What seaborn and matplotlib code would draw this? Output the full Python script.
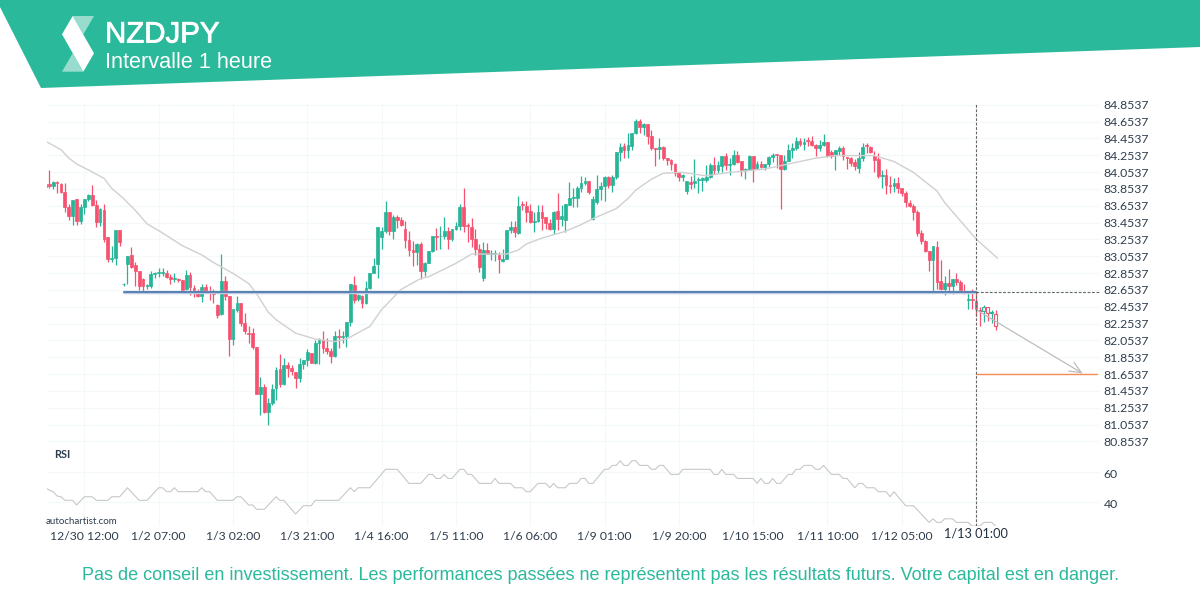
import numpy as np
import pandas as pd
import seaborn as sns
import matplotlib.pyplot as plt
import matplotlib.patheffects as pe
from matplotlib.patches import Polygon
from matplotlib.transforms import ScaledTranslation

# hourly candles
opens = [
    83.88, 83.91, 83.89, 83.94, 83.91, 83.82, 83.64, 83.53, 83.73, 83.47,
    83.64, 83.73, 83.78, 83.66, 83.46, 83.60, 83.28, 83.02, 83.03, 83.36,
    82.72, 82.96, 83.07, 82.95, 82.88, 82.78, 82.70, 82.70, 82.84, 82.86,
    82.86, 82.85, 82.81, 82.78, 82.78, 82.77, 82.66, 82.83, 82.68, 82.64,
    82.58, 82.69, 82.64, 82.62, 82.48, 82.37, 82.76, 82.58, 82.07, 82.41,
    82.50, 82.26, 82.14, 82.14, 81.97, 81.42, 81.50, 81.20, 81.31, 81.49,
    81.71, 81.54, 81.76, 81.73, 81.68, 81.61, 81.77, 81.82, 81.90, 81.78,
    82.02, 82.06, 81.96, 81.93, 81.87, 82.11, 82.10, 82.11, 82.27, 82.71,
    82.54, 82.58, 82.50, 82.68, 82.86, 82.96, 83.28, 83.35, 83.58, 83.35,
    83.52, 83.48, 83.38, 83.25, 83.13, 83.10, 83.20, 82.88, 82.97, 83.12,
    83.29, 83.29, 83.30, 83.35, 83.26, 83.38, 83.41, 83.64, 83.42, 83.40,
    83.26, 83.14, 82.80, 83.13, 83.08, 83.08, 83.07, 83.00, 83.02, 83.37,
    83.40, 83.33, 83.67, 83.65, 83.59, 83.46, 83.47, 83.58, 83.52, 83.45,
    83.38, 83.59, 83.50, 83.49, 83.66, 83.75, 83.75, 83.87, 83.92, 83.95,
    83.50, 83.70, 83.85, 83.89, 84.00, 83.90, 84.00, 84.29, 84.36, 84.32,
    84.36, 84.52, 84.66, 84.59, 84.63, 84.48, 84.34, 84.33, 84.35, 84.22,
    84.20, 84.15, 84.04, 83.99, 83.83, 83.94, 83.92, 83.96, 83.96, 83.96,
    83.99, 84.14, 84.08, 84.13, 84.25, 84.14, 84.15, 84.26, 84.18, 84.08,
    84.09, 84.24, 84.10, 84.15, 84.11, 84.15, 84.23, 84.27, 84.26, 84.09,
    84.19, 84.32, 84.34, 84.42, 84.39, 84.43, 84.42, 84.37, 84.34, 84.38,
    84.41, 84.29, 84.26, 84.31, 84.34, 84.23, 84.22, 84.17, 84.10, 84.22,
    84.37, 84.35, 84.24, 84.21, 84.01, 84.02, 83.90, 83.89, 83.92, 83.87,
    83.80, 83.69, 83.65, 83.58, 83.33, 83.24, 83.12, 83.01, 83.16, 82.76,
    82.67, 82.74, 82.70, 82.78, 82.75, 82.64, 82.53, 82.54, 82.52, 82.42,
    82.40, 82.45, 82.38, 82.37,
]
closes = [
    83.91, 83.89, 83.94, 83.93, 83.82, 83.64, 83.53, 83.72, 83.47, 83.64,
    83.73, 83.78, 83.66, 83.46, 83.61, 83.26, 83.02, 83.03, 83.36, 83.22,
    82.73, 83.06, 82.93, 82.88, 82.70, 82.70, 82.71, 82.84, 82.86, 82.87,
    82.87, 82.81, 82.78, 82.80, 82.77, 82.65, 82.83, 82.69, 82.64, 82.58,
    82.69, 82.64, 82.62, 82.61, 82.35, 82.76, 82.58, 82.07, 82.43, 82.50,
    82.26, 82.16, 82.13, 81.97, 81.42, 81.50, 81.20, 81.31, 81.48, 81.70,
    81.54, 81.76, 81.73, 81.69, 81.61, 81.77, 81.82, 81.92, 81.78, 82.02,
    82.06, 81.96, 81.93, 81.87, 82.11, 82.10, 82.11, 82.27, 82.72, 82.53,
    82.59, 82.50, 82.68, 82.86, 82.94, 83.40, 83.35, 83.58, 83.35, 83.52,
    83.48, 83.43, 83.25, 83.13, 83.10, 83.20, 82.88, 82.97, 83.12, 83.29,
    83.28, 83.30, 83.35, 83.26, 83.38, 83.41, 83.64, 83.41, 83.41, 83.26,
    83.14, 82.93, 83.13, 83.08, 83.09, 83.09, 83.02, 83.02, 83.37, 83.40,
    83.34, 83.65, 83.66, 83.58, 83.46, 83.47, 83.58, 83.51, 83.45, 83.38,
    83.58, 83.50, 83.53, 83.68, 83.75, 83.76, 83.86, 83.92, 83.95, 83.82,
    83.74, 83.85, 83.89, 84.00, 83.90, 84.00, 84.29, 84.35, 84.32, 84.38,
    84.52, 84.66, 84.59, 84.63, 84.48, 84.34, 84.33, 84.35, 84.22, 84.20,
    84.15, 84.04, 84.00, 84.02, 83.95, 83.91, 83.95, 83.97, 83.98, 84.00,
    84.14, 84.08, 84.14, 84.24, 84.14, 84.15, 84.26, 84.17, 84.08, 84.09,
    84.24, 84.09, 84.15, 84.12, 84.15, 84.23, 84.26, 84.26, 84.09, 84.19,
    84.32, 84.34, 84.42, 84.39, 84.41, 84.42, 84.38, 84.34, 84.38, 84.41,
    84.25, 84.25, 84.32, 84.34, 84.24, 84.22, 84.16, 84.13, 84.22, 84.35,
    84.36, 84.29, 84.20, 84.01, 84.02, 83.90, 83.89, 83.92, 83.87, 83.80,
    83.70, 83.65, 83.58, 83.33, 83.24, 83.12, 83.01, 83.17, 82.75, 82.67,
    82.74, 82.70, 82.78, 82.75, 82.64, 82.63, 82.54, 82.53, 82.43, 82.40,
    82.45, 82.38, 82.39, 82.22,
]
highs = [
    83.92, 84.08, 83.95, 83.95, 83.93, 83.93, 83.67, 83.72, 83.73, 83.67,
    83.74, 83.79, 83.90, 83.72, 83.63, 83.67, 83.28, 83.17, 83.37, 83.37,
    82.74, 83.06, 83.16, 82.98, 82.88, 82.79, 82.72, 82.88, 82.87, 82.92,
    82.91, 82.89, 82.84, 82.85, 82.79, 82.77, 82.89, 82.87, 82.71, 82.66,
    82.72, 82.72, 82.70, 82.66, 82.49, 83.08, 82.82, 82.58, 82.43, 82.58,
    82.50, 82.38, 82.23, 82.20, 81.97, 81.62, 81.54, 81.37, 81.54, 81.74,
    81.89, 81.85, 81.80, 81.76, 81.68, 81.84, 81.82, 81.95, 81.90, 82.06,
    82.08, 82.16, 82.08, 81.96, 82.16, 82.19, 82.16, 82.27, 82.72, 82.82,
    82.61, 82.59, 82.76, 82.86, 83.03, 83.40, 83.40, 83.71, 83.58, 83.54,
    83.54, 83.52, 83.47, 83.35, 83.24, 83.21, 83.22, 82.98, 83.12, 83.30,
    83.39, 83.41, 83.52, 83.40, 83.38, 83.46, 83.67, 83.87, 83.45, 83.51,
    83.38, 83.20, 83.22, 83.21, 83.13, 83.13, 83.10, 83.14, 83.37, 83.47,
    83.47, 83.77, 83.71, 83.71, 83.67, 83.58, 83.66, 83.66, 83.52, 83.50,
    83.59, 83.80, 83.66, 83.68, 83.94, 83.86, 83.89, 84.01, 84.00, 83.95,
    83.77, 84.02, 83.94, 84.01, 84.01, 84.02, 84.29, 84.40, 84.40, 84.52,
    84.52, 84.69, 84.68, 84.64, 84.63, 84.55, 84.34, 84.46, 84.36, 84.22,
    84.21, 84.16, 84.06, 84.03, 83.95, 84.01, 84.21, 83.99, 83.99, 84.14,
    84.16, 84.23, 84.18, 84.25, 84.28, 84.22, 84.32, 84.30, 84.18, 84.10,
    84.26, 84.24, 84.19, 84.19, 84.15, 84.24, 84.28, 84.27, 84.26, 84.26,
    84.39, 84.40, 84.47, 84.46, 84.46, 84.47, 84.48, 84.39, 84.43, 84.51,
    84.41, 84.32, 84.32, 84.36, 84.36, 84.23, 84.23, 84.21, 84.29, 84.40,
    84.40, 84.36, 84.30, 84.28, 84.08, 84.09, 84.01, 83.98, 83.99, 83.87,
    83.83, 83.72, 83.68, 83.60, 83.36, 83.25, 83.12, 83.18, 83.23, 83.01,
    82.82, 82.90, 82.78, 82.85, 82.77, 82.73, 82.63, 82.67, 82.63, 82.45,
    82.47, 82.45, 82.41, 82.42,
]
lows = [
    83.85, 83.87, 83.85, 83.80, 83.81, 83.58, 83.49, 83.43, 83.42, 83.44,
    83.56, 83.71, 83.65, 83.40, 83.41, 83.22, 82.99, 82.99, 82.95, 83.18,
    82.70, 82.73, 82.92, 82.70, 82.65, 82.64, 82.67, 82.68, 82.79, 82.81,
    82.82, 82.79, 82.72, 82.75, 82.75, 82.65, 82.65, 82.59, 82.57, 82.57,
    82.51, 82.63, 82.53, 82.50, 82.32, 82.36, 82.53, 81.87, 82.00, 82.39,
    82.22, 82.13, 82.02, 81.95, 81.42, 81.17, 81.19, 81.05, 81.29, 81.35,
    81.50, 81.52, 81.62, 81.64, 81.49, 81.56, 81.71, 81.75, 81.78, 81.77,
    81.77, 81.90, 81.89, 81.78, 81.86, 81.96, 82.02, 81.97, 82.22, 82.50,
    82.52, 82.44, 82.49, 82.67, 82.85, 82.80, 83.14, 83.33, 83.31, 83.26,
    83.39, 83.41, 83.15, 83.06, 82.94, 82.95, 82.78, 82.82, 82.97, 83.11,
    83.13, 83.14, 83.26, 83.14, 83.24, 83.37, 83.37, 83.34, 83.22, 83.16,
    83.07, 82.87, 82.76, 83.08, 83.01, 83.00, 82.86, 82.99, 83.02, 83.33,
    83.28, 83.32, 83.60, 83.46, 83.45, 83.34, 83.46, 83.37, 83.38, 83.36,
    83.32, 83.37, 83.41, 83.34, 83.66, 83.64, 83.64, 83.82, 83.90, 83.79,
    83.48, 83.68, 83.72, 83.71, 83.87, 83.82, 83.97, 84.19, 84.22, 84.22,
    84.32, 84.51, 84.52, 84.49, 84.39, 84.32, 84.13, 84.21, 84.20, 84.14,
    84.08, 84.01, 83.95, 83.95, 83.79, 83.85, 83.87, 83.80, 83.83, 83.94,
    83.98, 84.03, 84.04, 84.06, 84.08, 84.02, 84.14, 84.16, 84.01, 83.97,
    84.08, 83.94, 84.09, 84.10, 84.08, 84.12, 84.17, 84.10, 83.61, 84.08,
    84.18, 84.22, 84.32, 84.36, 84.32, 84.36, 84.36, 84.24, 84.30, 84.36,
    84.23, 84.22, 84.08, 84.26, 84.20, 84.09, 84.13, 84.08, 84.04, 84.18,
    84.28, 84.28, 84.05, 83.98, 83.86, 83.79, 83.81, 83.82, 83.81, 83.77,
    83.64, 83.64, 83.49, 83.30, 83.20, 83.11, 82.88, 82.64, 82.66, 82.65,
    82.59, 82.63, 82.61, 82.71, 82.63, 82.61, 82.43, 82.43, 82.34, 82.22,
    82.27, 82.28, 82.26, 82.18,
]

# moving average, corners of the line
ma_idx = [0.5, 4, 6, 8, 11, 15, 17, 20, 23, 26, 30, 35, 40, 43, 48, 52, 54, 57, 59, 64,
          69, 74, 77, 83, 86, 91, 96, 98, 105, 109, 110, 118, 121, 123, 127, 133, 137,
          140, 146, 149, 151, 155, 158, 162, 163, 169, 175, 184, 189, 197, 202, 212,
          217, 222, 228, 230, 238, 243.5]
ma_val = [84.41, 84.32, 84.22, 84.15, 84.08, 83.98, 83.86, 83.74, 83.60, 83.44, 83.33,
          83.18, 83.07, 82.98, 82.85, 82.73, 82.61, 82.39, 82.30, 82.14, 82.07, 82.04,
          82.07, 82.22, 82.42, 82.66, 82.79, 82.81, 82.97, 83.08, 83.08, 83.08, 83.13,
          83.20, 83.27, 83.35, 83.43, 83.50, 83.62, 83.74, 83.84, 83.97, 84.04, 84.05,
          84.05, 84.01, 84.05, 84.09, 84.14, 84.22, 84.25, 84.25, 84.18, 84.05, 83.83,
          83.69, 83.26, 83.03]

# RSI panel, corners of the line
rsi_idx = [0, 1, 2, 3, 4, 5, 7, 8, 10, 12, 13, 16, 17, 19, 21, 24, 26, 29, 30, 31, 32, 33,
           34, 39, 40, 41, 42, 44, 48, 49, 50, 52, 53, 54, 56, 59, 60, 61, 64, 66, 68, 69,
           75, 78, 79, 80, 83, 87, 90, 93, 96, 98, 99, 100, 101, 102, 103, 104, 106, 107,
           108, 109, 111, 114, 115, 116, 119, 120, 122, 123, 124, 126, 128, 129, 130, 131,
           133, 134, 136, 137, 138, 139, 140, 143, 144, 145, 146, 147, 148, 149, 150, 151,
           152, 154, 155, 156, 157, 158, 160, 162, 163, 170, 171, 172, 173, 174, 176, 177,
           181, 182, 183, 184, 185, 186, 187, 188, 190, 191, 192, 193, 194, 196, 197, 198,
           199, 201, 203, 204, 205, 207, 208, 209, 210, 212, 213, 215, 216, 217, 220, 222,
           226, 227, 228, 229, 230, 232, 233, 236, 237, 239, 240, 242, 243]
rsi_val = [49.7, 48.2, 47.1, 44.2, 43.7, 41.3, 41.3, 38.2, 43.7, 43.7, 41.3, 41.3, 43.7, 43.7,
           49.7, 41.3, 41.3, 49.7, 49.7, 47.1, 47.1, 49.7, 47.1, 47.1, 49.7, 47.1, 47.1, 41.3,
           41.3, 43.7, 43.7, 38.2, 38.2, 35.3, 35.3, 43.7, 41.3, 41.3, 32.2, 37.7, 37.7, 41.3,
           41.3, 49.7, 47.1, 49.7, 49.7, 62.0, 62.0, 52.6, 52.6, 58.6, 58.6, 55.9, 55.9, 58.6,
           55.9, 55.9, 62.0, 62.0, 58.6, 58.6, 52.6, 52.6, 55.9, 52.6, 52.6, 49.7, 49.7, 47.1,
           47.1, 52.6, 52.6, 49.7, 52.6, 49.7, 49.7, 52.6, 52.6, 55.9, 55.9, 52.6, 52.6, 62.0,
           62.0, 64.6, 64.6, 67.7, 64.6, 64.6, 67.7, 67.7, 64.6, 64.6, 62.0, 62.0, 64.6, 64.6,
           58.6, 58.6, 62.0, 62.0, 58.6, 58.6, 62.0, 58.6, 58.6, 55.9, 55.9, 52.6, 55.9, 52.6,
           52.6, 55.9, 52.6, 52.6, 58.6, 58.6, 62.0, 62.0, 64.6, 64.6, 62.0, 62.0, 64.6, 58.6,
           58.6, 55.9, 55.9, 49.7, 52.6, 52.6, 49.7, 49.7, 47.1, 47.1, 43.7, 47.1, 37.7, 37.7,
           26.6, 29.0, 26.6, 26.6, 29.0, 29.0, 26.6, 26.6, 24.2, 24.2, 26.6, 26.6, 24.2]

# pattern levels
level_price = 82.635
level_start, level_end = 20, 238
target_price = 81.66
arrow_start = (238, 82.42)
arrow_end = (265.3, 81.66)
target_stop = 269

price_ticks = [84.8537, 84.6537, 84.4537, 84.2537, 84.0537, 83.8537, 83.6537, 83.4537,
               83.2537, 83.0537, 82.8537, 82.6537, 82.4537, 82.2537, 82.0537, 81.8537,
               81.6537, 81.4537, 81.2537, 81.0537, 80.8537]
rsi_ticks = [60, 40]
time_ticks = [10, 29, 48, 67, 86, 105, 124, 143, 162, 181, 200, 219]
time_labels = ["12/30 12:00", "1/2 07:00", "1/3 02:00", "1/3 21:00", "1/4 16:00", "1/5 11:00",
               "1/6 06:00", "1/9 01:00", "1/9 20:00", "1/10 15:00", "1/11 10:00", "1/12 05:00"]
now_tick = 238
now_label = "1/13 01:00"

GREEN = "#26b597"
RED = "#f6516f"
TEAL = "#2bb99c"
GRID = "#f5f8fb"
TEXT = "#2f3e4e"
HOLLOW_FROM = 239  # last candles are drawn unfilled

sns.set_theme(style="white", font="Lato")

W, H = 1200, 600
fig = plt.figure(figsize=(12, 6), dpi=100, facecolor="white")


def px_axes(left, top, right, bottom):
    return fig.add_axes([left / W, 1 - bottom / H, (right - left) / W, (bottom - top) / H])


ax = px_axes(47, 103, 1100, 445)
ax_rsi = px_axes(47, 445, 1100, 526)
for a in (ax, ax_rsi):
    a.set_xlim(0.43, 269.7)
    a.set_facecolor("none")
    sns.despine(ax=a, left=True, bottom=True, right=True, top=True)
    a.grid(True, color=GRID, linewidth=0.9)
    a.set_axisbelow(True)
    a.yaxis.tick_right()
ax.set_ylim(80.811, 84.875)
ax_rsi.set_ylim(24.2, 78.2)

# candles
df = pd.DataFrame({"open": opens, "high": highs, "low": lows, "close": closes})
df["idx"] = np.arange(len(df))
df["top"] = df[["open", "close"]].max(axis=1)
df["bottom"] = df[["open", "close"]].min(axis=1)
df["color"] = np.where(df["close"] >= df["open"], GREEN, RED)

ax.vlines(df["idx"], df["low"], df["high"], colors=df["color"], linewidth=0.9, zorder=2)
solid = df[df["idx"] < HOLLOW_FROM]
ax.bar(solid["idx"], solid["top"] - solid["bottom"], bottom=solid["bottom"], width=0.72,
       color=solid["color"], edgecolor=solid["color"], linewidth=0.5, zorder=3)
hollow = df[df["idx"] >= HOLLOW_FROM]
ax.bar(hollow["idx"], hollow["top"] - hollow["bottom"], bottom=hollow["bottom"], width=0.72,
       color="white", edgecolor=hollow["color"], linewidth=0.8, zorder=3)

sns.lineplot(x=ma_idx, y=ma_val, ax=ax, color="#d0d0d0", linewidth=1.0, sort=False,
             estimator=None, zorder=4)
sns.lineplot(x=rsi_idx, y=rsi_val, ax=ax_rsi, color="#c8c8c8", linewidth=0.8, sort=False,
             estimator=None, zorder=4)

# breakout level and projection
ax.plot([level_start, level_end], [level_price, level_price], color="#bccce2", linewidth=2.5, zorder=5)
ax.plot([level_start, level_end], [level_price, level_price], color="#5279ae", linewidth=1.3, zorder=6)
ax.plot([level_end, 269.7], [level_price, level_price], color="#666666", linewidth=0.8,
        linestyle=(0, (2.5, 1.5)), zorder=5)
ax.plot([level_end, target_stop], [target_price, target_price], color="#f58a55", linewidth=1, zorder=5)
ax.annotate("", xy=arrow_end, xytext=arrow_start, zorder=6,
            arrowprops=dict(arrowstyle="->,head_length=0.7,head_width=0.3", color="#bdbdbd",
                            linewidth=0.9, shrinkA=0, shrinkB=0))
for a in (ax, ax_rsi):
    a.axvline(now_tick, color="#666666", linewidth=0.8, linestyle=(0, (2.5, 1.5)), zorder=6)

# axes text
ax.set_xticks(time_ticks)
ax.tick_params(axis="x", length=0, labelbottom=False)
ax.set_yticks(price_ticks)
ax.set_yticklabels([f"{p:.4f}" for p in price_ticks])
ax.tick_params(axis="y", length=0, pad=2.6, labelsize=8.8, labelcolor=TEXT)
ax_rsi.set_yticks(rsi_ticks)
ax_rsi.tick_params(axis="y", length=0, pad=2.6, labelsize=8.8, labelcolor=TEXT)
ax_rsi.set_xticks(time_ticks + [now_tick])
ax_rsi.set_xticklabels(time_labels + [now_label])
ax_rsi.tick_params(axis="x", length=0, pad=3.6, labelsize=8.8, labelcolor=TEXT)
last = ax_rsi.get_xticklabels()[-1]
last.set_fontsize(9.2)
last.set_color("#22303f")
last.set_transform(last.get_transform() + ScaledTranslation(0, 3 / 100, fig.dpi_scale_trans))
# RSI labels sit a little under their grid lines
for label in ax_rsi.get_yticklabels():
    label.set_transform(label.get_transform() + ScaledTranslation(0, -1 / 100, fig.dpi_scale_trans))
for a in (ax, ax_rsi):
    a.set_xlabel("")
    a.set_ylabel("")

fig.text(54 / W, 1 - 454 / H, "RSI", fontsize=7.8, fontweight="bold", color=TEXT, va="center")
fig.text(46 / W, 1 - 521 / H, "autochartist.com", fontsize=7, color=TEXT, va="center")

# header band and logo
band = fig.add_axes([0, 0, 1, 1], zorder=10)
band.set_xlim(0, W)
band.set_ylim(H, 0)
band.axis("off")
band.patch.set_alpha(0)
band.add_patch(Polygon([(0, 0), (0, 7), (41, 88), (1200, 47), (1200, 0)], color=TEAL, lw=0))
band.add_patch(Polygon([(72.7, 16), (94, 16), (83.3, 34.5)], color="#97dccd", lw=0))
band.add_patch(Polygon([(62, 71.7), (83.3, 71.7), (72.7, 53.3)], color="#97dccd", lw=0))
band.add_patch(Polygon([(72.7, 16), (62, 34.3), (83.3, 71.7), (94, 53.3)], color="white", lw=0))
title = band.text(105, 34.5, "NZDJPY", fontsize=21.2, color="white", family="Liberation Sans", va="center")
title.set_path_effects([pe.withStroke(linewidth=0.6, foreground="white")])
band.text(105, 62, "Intervalle 1 heure", fontsize=15.6, color="white", family="Liberation Sans", va="center")
band.text(600, 575, "Pas de conseil en investissement. Les performances passées ne représentent pas "
          "les résultats futurs. Votre capital est en danger.", fontsize=13, color=TEAL, ha="center",
          va="center", family="Liberation Sans")

fig.savefig("out.png", dpi=100, facecolor="white")
